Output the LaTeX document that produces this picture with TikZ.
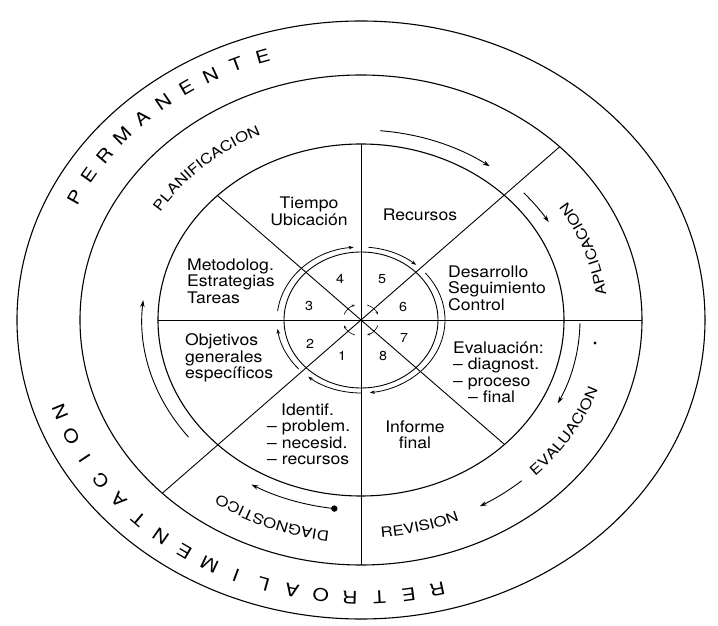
\documentclass[tikz,border=0pt]{standalone}
\usepackage{fontspec}
\setmainfont{TeX Gyre Heros}
\newfontfamily\ringfont[FakeStretch=1.2]{TeX Gyre Heros}
\newfontfamily\bodyfont[FakeStretch=1.1]{TeX Gyre Heros}
\usetikzlibrary{arrows.meta,decorations.text}

\begin{document}
\begin{tikzpicture}[x=1pt,y=1pt,
    wheel/.style={line width=1.1pt},
    spoke/.style={line width=0.9pt},
    flow/.style={line width=0.9pt,-{Stealth[length=7pt,width=4.5pt]}},
    smallflow/.style={line width=0.8pt,-{Stealth[length=5pt,width=3.5pt]}},
    box/.style={font=\bodyfont\fontsize{16}{16.5}\selectfont,inner sep=0pt},
    num/.style={font=\bodyfont\fontsize{13}{13}\selectfont,inner sep=0pt},
    letter/.style={font=\ringfont\fontsize{17.5}{17.5}\selectfont,inner sep=0pt},
    ringlabel/.style={decorate,decoration={text along path,text align=center,
        text={|\ringfont\fontsize{14}{14}\selectfont|#1}}}]
    \useasboundingbox (-361,-306) rectangle (357,320);
    \coordinate (C) at (0,0);

    % Draw the rings
    \draw[wheel] (C) ellipse [x radius=344, y radius=299];
    \draw[wheel] (C) ellipse [x radius=281, y radius=245];
    \draw[wheel] (C) ellipse [x radius=203, y radius=176];
    \draw[spoke] (C) ellipse [x radius=77, y radius=68];

    % Spokes: short ones stop at the middle ring
    \foreach \a in {90,135,180,315} \draw[spoke] (C) -- (\a:203 and 176);
    \foreach \a in {0,45,225,270} \draw[spoke] (C) -- (\a:281 and 245);

    % Arrows round the phases
    \foreach \s/\e in {85/54, 42/31, -1/-26, -97/-120, 218/174}
        \draw[flow] (\s:219 and 190) arc[start angle=\s, end angle=\e, x radius=219, y radius=190];
    \draw[flow] (-49:245 and 213) arc[start angle=-49, end angle=-61, x radius=245, y radius=213];
    \fill (-97:219 and 190) circle (3.2);
    \fill (234,-23) circle (1.6);

    % Arrows round the inner circle
    \foreach \s/\e in {222/187, 173/95, 85/49, 40/-84, -90/-129}
        \draw[smallflow] (\s:84 and 73) arc[start angle=\s, end angle=\e, x radius=84, y radius=73];
    \foreach \s/\e in {160/110, 70/20, -20/-70, -110/-160}
        \draw[line width=0.6pt,-{Stealth[length=3pt,width=2.5pt]}] (\s:18 and 16) arc[start angle=\s, end angle=\e, x radius=18, y radius=16];

    % Step numbers
    \foreach \n/\x/\y in {1/-19/-36, 2/-51/-24, 3/-52/14, 4/-21/41, 5/21/41, 6/42/13, 7/43/-18, 8/22/-36}
        \node[num] (n\n) at (\x,\y) {\n};

    % Contents of the sectors
    \node[box,align=center] (tiempo) at (-52,108.5) {Tiempo\\Ubicación};
    \node[box] (recursos) at (59,105) {Recursos};
    \node[box,align=left,anchor=west] (desarrollo) at (87,32) {Desarrollo\\Seguimiento\\Control};
    \node[box,align=left,anchor=west] (evaluacion) at (92,-52.5) {Evaluación:\\– diagnost.\\– proceso\\\hspace*{15pt}– final};
    \node[box,align=center] (informe) at (54,-115) {Informe\\final};
    \node[box,align=left,anchor=west] (identif) at (-94,-114.5) {\hspace*{14pt}Identif.\\– problem.\\– necesid.\\– recursos};
    \node[box,align=left,anchor=west] (objetivos) at (-176,-38) {Objetivos\\generales\\específicos};
    \node[box,align=left,anchor=west] (metodolog) at (-174,39) {Metodolog.\\Estrategias\\Tareas};

    % Phase names along the ring
    \path[ringlabel=PLANIFICACION] (173:236 and 205) arc[start angle=173, end angle=93, x radius=236, y radius=205];
    \path[ringlabel=APLICACION] (0:247 and 215) arc[start angle=0, end angle=40, x radius=247, y radius=215];
    \path[ringlabel=EVALUACION] (-52:250 and 217.5) arc[start angle=-52, end angle=-12, x radius=250, y radius=217.5];
    \path[ringlabel=REVISION] (-96:251 and 218) arc[start angle=-96, end angle=-56, x radius=251, y radius=218];
    \path[ringlabel=DIAGNOSTICO] (-91:245 and 213) arc[start angle=-91, end angle=-132, x radius=245, y radius=213];

    % Spaced letters on the outer ring
    \foreach \l [count=\i] in {P,E,R,M,A,N,E,N,T,E} {
        \pgfmathsetmacro\t{153.7-(\i-1)*5.08}
        \pgfmathsetmacro\r{atan2(-277.5*cos(\t),319*sin(\t))}
        \node[letter,rotate=\r] (perm\i) at (\t:319 and 277.5) {\l};
    }
    \foreach \l [count=\i] in {R,E,T,R,O,A,L,I,M,E,N,T,A,C,I,O,N} {
        \pgfmathsetmacro\t{-76.1-(\i-1)*5.28}
        \pgfmathsetmacro\r{atan2(-277.5*cos(\t),319*sin(\t))}
        \node[letter,rotate=\r] (retro\i) at (\t:319 and 277.5) {\l};
    }
\end{tikzpicture}
\end{document}
